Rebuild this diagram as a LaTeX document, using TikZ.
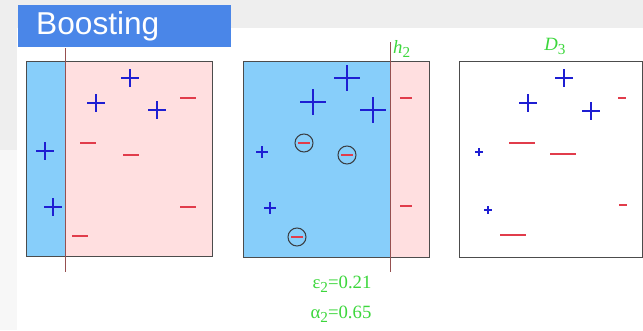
\documentclass[tikz,border=0pt]{standalone}
\usepackage{fontspec}
\setmainfont{Liberation Serif}
\newfontfamily\titlefont{Liberation Sans}
\usepackage{xcolor}
\usetikzlibrary{positioning}
\definecolor{slidegray}{RGB}{238,238,238}
\definecolor{titleblue}{RGB}{74,134,232}
\definecolor{posblue}{RGB}{135,206,250}
\definecolor{negpink}{RGB}{255,223,224}
\definecolor{plusblue}{RGB}{30,30,210}
\definecolor{minusred}{RGB}{225,60,75}
\definecolor{cutbrown}{RGB}{150,80,80}
\definecolor{labelgreen}{RGB}{60,215,60}
\newcommand{\lowsub}[1]{\raisebox{-0.45ex}{\fontsize{13}{14}\selectfont #1}}

\begin{document}
\begin{tikzpicture}[
      x=0.03cm, y=-0.03cm,
      frame/.style={draw=black!70, line width=0.8pt},
      cut/.style={draw=cutbrown, line width=0.8pt},
      plusmark/.style={draw=plusblue, line width=0.9pt},
      minusmark/.style={draw=minusred, line width=0.9pt},
      ring/.style={draw=black!60!cyan!40!black, line width=0.9pt},
      lbl/.style={text=labelgreen, font=\fontsize{16}{18}\selectfont, inner sep=0pt}
    ]
      % background of the slide
      \useasboundingbox (0,0) rectangle (643,330);
      \fill[white] (0,0) rectangle (643,330);
      \fill[slidegray] (0,0) rectangle (643,28);
      \fill[slidegray] (0,0) rectangle (17,150);
      \fill[slidegray!50] (0,150) rectangle (17,330);
      \fill[titleblue] (18,5) rectangle (231,47);
      \node[anchor=west, text=white, font=\titlefont\fontsize{27}{30}\selectfont, inner sep=0pt] (title) at (36,26) {Boosting};

      % first round
      \fill[posblue] (26,61) rectangle (65,256);
      \fill[negpink] (65,61) rectangle (212,256);
      \draw[frame] (26,61) rectangle (212,256);
      \coordinate (h1top) at (65,48);
      \coordinate (h1bot) at (65,272);
      \draw[cut] (h1top) -- (h1bot);

      % second round
      \fill[posblue] (243,61) rectangle (390,257);
      \fill[negpink] (390,61) rectangle (429,257);
      \draw[frame] (243,61) rectangle (429,257);
      \coordinate (h2top) at (390,42);
      \coordinate (h2bot) at (390,272);
      \draw[cut] (h2top) -- (h2bot);
      \node[lbl, anchor=west] (h2) at (393,49) {\textit{h}\lowsub{2}};

      % third round
      \draw[frame] (459,61) rectangle (642,257);
      \node[lbl] (d3) at (555,46) {\textit{D}\lowsub{3}};

      % pluses: x/y/half size
      \foreach \x/\y/\s in {130/78/9, 96/103/9, 157/110/9, 45/151/9, 53/207/9,
                            347/78/13, 313/102/13, 373/110/13, 262/152/6, 270/208/6,
                            564/78/9, 528/103/9, 591/111/9, 479/152/4, 488/210/4}
        \draw[plusmark] (\x-\s,\y) -- (\x+\s,\y) (\x,\y-\s) -- (\x,\y+\s);

      % minuses: x/y/half size
      \foreach \x/\y/\s in {188/98/8, 88/143/8, 131/155/8, 188/207/8, 80/236/8,
                            406/98/6, 406/206/6,
                            304/143/6, 347/155/6, 297/237/6,
                            622/98/4, 522/143/13, 563/154/13, 513/235/13, 623/205/4}
        \draw[minusmark] (\x-\s,\y) -- (\x+\s,\y);

      % misclassified points of round one
      \foreach \x/\y in {304/143, 347/155, 297/237}
        \draw[ring] (\x,\y) circle[radius=9];

      \node[lbl] (eps) at (342,284) {ε\lowsub{2}=0.21};
      \node[lbl] (alpha) at (341,314) {α\lowsub{2}=0.65};
    \end{tikzpicture}
\end{document}
